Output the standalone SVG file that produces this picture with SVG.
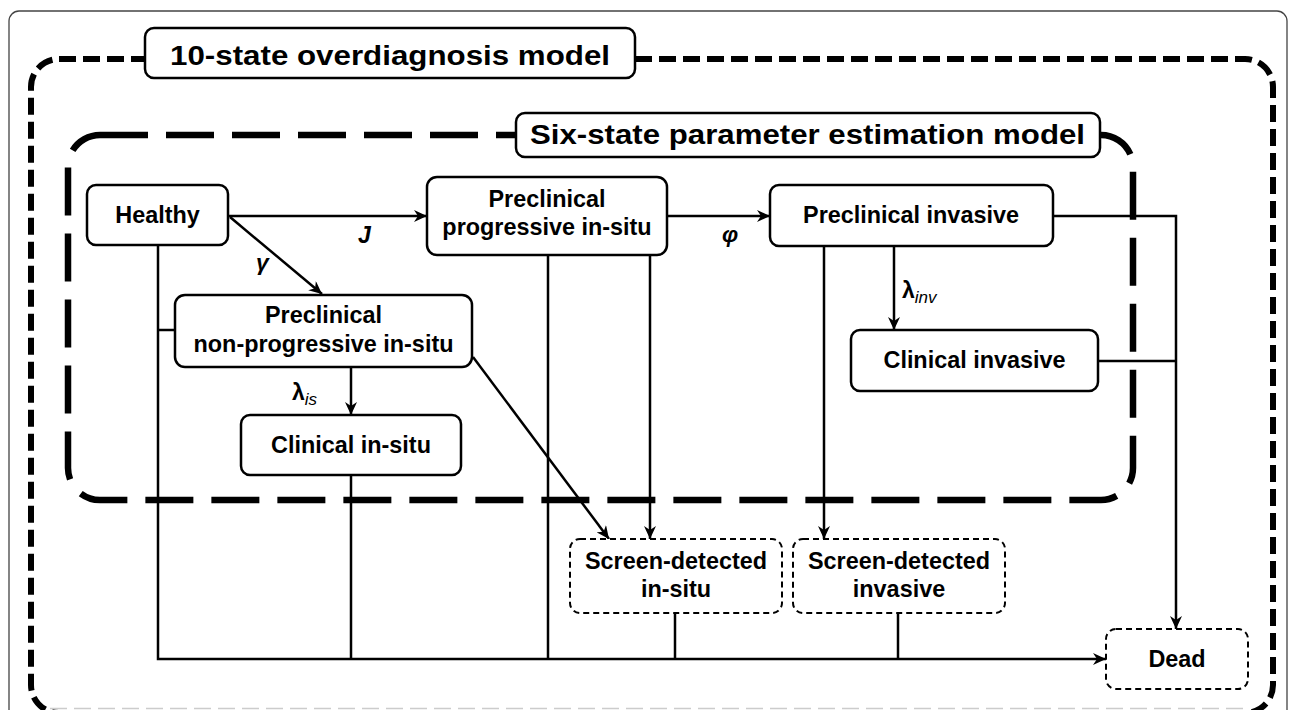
<svg xmlns="http://www.w3.org/2000/svg" width="1292" height="710" viewBox="0 0 1292 710">
<defs>
<marker id="arr" markerUnits="userSpaceOnUse" markerWidth="14" markerHeight="12" refX="13" refY="6" orient="auto">
<path d="M0,0 L13,6 L0,12 L4,6 Z" fill="#000"/>
</marker>
<style>
.t{font-family:"Liberation Sans",Arial,sans-serif;font-weight:bold;fill:#000}
.n{font-size:23.4px;text-anchor:middle}
.ttl{font-size:28px}
.box{fill:#fff;stroke:#000;stroke-width:2.5}
.dbox{fill:#fff;stroke:#000;stroke-width:2;stroke-dasharray:6 4}
.c{fill:none;stroke:#000;stroke-width:2.5}
.lab{font-family:"Liberation Sans",Arial,sans-serif;font-weight:bold;font-style:italic;font-size:23px}
.sub{font-family:"Liberation Sans",Arial,sans-serif;font-weight:normal;font-style:italic;font-size:17px}
</style>
</defs>
<rect width="1292" height="710" fill="#fff"/>
<rect x="9" y="11" width="1278" height="730" rx="10" fill="none" stroke="#444" stroke-width="1.3"/>
<rect id="outer-model" x="31" y="59" width="1242" height="654" rx="28" fill="none" stroke="#000" stroke-width="6" stroke-dasharray="17 7"/>
<line x1="50" y1="708.5" x2="1250" y2="708.5" stroke="#ccc" stroke-width="1.5" stroke-dasharray="17 7"/>
<rect id="inner-model" x="68" y="135" width="1065" height="365" rx="32" fill="none" stroke="#000" stroke-width="6.5" stroke-dasharray="48 18"/>
<g id="title-10state">
<rect class="box" x="145" y="28" width="490" height="50" rx="9"/>
<text class="t ttl" x="170" y="65" textLength="440" lengthAdjust="spacingAndGlyphs">10-state overdiagnosis model</text>
</g>
<g id="title-6state">
<rect class="box" x="516" y="113" width="584" height="44" rx="9"/>
<text class="t ttl" x="530" y="144" textLength="555" lengthAdjust="spacingAndGlyphs">Six-state parameter estimation model</text>
</g>
<g id="connectors">
<line class="c" x1="228" y1="216" x2="427" y2="216" marker-end="url(#arr)"/>
<line class="c" x1="230" y1="217" x2="322" y2="294" marker-end="url(#arr)"/>
<line class="c" x1="667" y1="216" x2="770" y2="216" marker-end="url(#arr)"/>
<line class="c" x1="351" y1="367" x2="351" y2="415" marker-end="url(#arr)"/>
<line class="c" x1="894" y1="246" x2="894" y2="330" marker-end="url(#arr)"/>
<line class="c" x1="473" y1="357" x2="609" y2="539" marker-end="url(#arr)"/>
<line class="c" x1="650" y1="255" x2="650" y2="539" marker-end="url(#arr)"/>
<line class="c" x1="824" y1="246" x2="824" y2="539" marker-end="url(#arr)"/>
<polyline class="c" points="158,245 158,659 1106,659" marker-end="url(#arr)"/>
<line class="c" x1="158" y1="330" x2="175" y2="330"/>
<line class="c" x1="351" y1="475" x2="351" y2="659"/>
<line class="c" x1="548" y1="255" x2="548" y2="659"/>
<line class="c" x1="675" y1="613" x2="675" y2="659"/>
<line class="c" x1="898" y1="613" x2="898" y2="659"/>
<polyline class="c" points="1053,216 1176,216 1176,629" marker-end="url(#arr)"/>
<line class="c" x1="1098" y1="361" x2="1176" y2="361"/>
</g>
<g id="labels">
<text class="lab" x="358" y="243">J</text>
<text class="lab" x="256" y="270">γ</text>
<text class="lab" x="722" y="242">φ</text>
<text class="t" x="292" y="400" font-size="23">λ<tspan class="sub" dy="5">is</tspan></text>
<text class="t" x="902" y="298" font-size="23">λ<tspan class="sub" dy="5">inv</tspan></text>
</g>
<g id="healthy">
<rect class="box" x="87" y="185" width="141" height="60" rx="9"/>
<text class="t n" x="157.5" y="223">Healthy</text>
</g>
<g id="preclinical-progressive">
<rect class="box" x="427" y="177" width="240" height="78" rx="10"/>
<text class="t n" x="547" y="207">Preclinical</text>
<text class="t n" x="547" y="235">progressive in-situ</text>
</g>
<g id="preclinical-invasive">
<rect class="box" x="770" y="185" width="283" height="61" rx="9"/>
<text class="t n" x="911" y="223">Preclinical invasive</text>
</g>
<g id="preclinical-nonprogressive">
<rect class="box" x="175" y="295" width="297" height="72" rx="10"/>
<text class="t n" x="323.5" y="323">Preclinical</text>
<text class="t n" x="323.5" y="352">non-progressive in-situ</text>
</g>
<g id="clinical-insitu">
<rect class="box" x="241" y="415" width="220" height="60" rx="9"/>
<text class="t n" x="351" y="453">Clinical in-situ</text>
</g>
<g id="clinical-invasive">
<rect class="box" x="851" y="330" width="247" height="61" rx="9"/>
<text class="t n" x="974.5" y="368">Clinical invasive</text>
</g>
<g id="screen-insitu">
<rect class="dbox" x="570" y="539" width="212" height="74" rx="10"/>
<text class="t n" x="676" y="569">Screen-detected</text>
<text class="t n" x="676" y="597">in-situ</text>
</g>
<g id="screen-invasive">
<rect class="dbox" x="793" y="539" width="212" height="74" rx="10"/>
<text class="t n" x="899" y="569">Screen-detected</text>
<text class="t n" x="899" y="597">invasive</text>
</g>
<g id="dead">
<rect class="dbox" x="1106" y="629" width="142" height="60" rx="10"/>
<text class="t n" x="1177" y="667">Dead</text>
</g>
</svg>
